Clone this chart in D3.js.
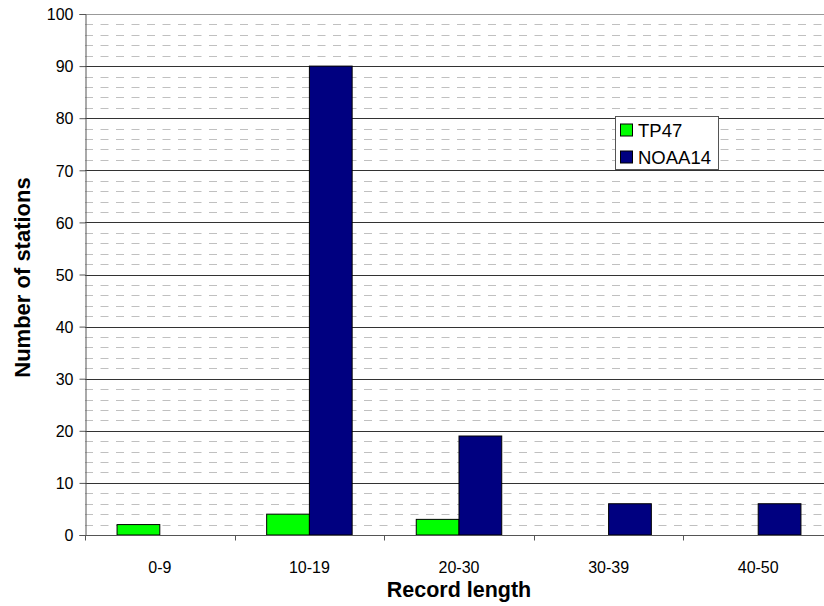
<!DOCTYPE html>
<html><head><meta charset="utf-8">
<script src="https://cdn.jsdelivr.net/npm/d3@7"></script>
<style>body{margin:0;background:#fff;} svg{display:block;font-family:"Liberation Sans",Arial,sans-serif;}</style>
</head><body>
<script>
const categories = ["0-9","10-19","20-30","30-39","40-50"];
const seriesNames = ["TP47","NOAA14"];
const tp47 = [2,4,3,0,0];
const noaa14 = [0,90,19,6,6];
const yTicks = [0,10,20,30,40,50,60,70,80,90,100];
const colors = ["#00ff00","#000080"];

(function(){
const W=824,H=606;
const pL=85, pR=833, pT=14, pB=535;
const svg=d3.select("body").append("svg").attr("width",W).attr("height",H);
const y=d3.scaleLinear().domain([0,100]).range([pB,pT]);
const x=d3.scaleBand().domain(categories).range([pL,pR]).paddingInner(3/7).paddingOuter(1.5/7);
const xc=d3.scaleBand().domain(categories).range([pL,pR]);
const xs=d3.scaleBand().domain(seriesNames).range([0,x.bandwidth()]);

// minor dashed gridlines
const minor=d3.range(2,100,2).filter(v=>v%10!==0);
svg.append("g").selectAll("line").data(minor).join("line")
 .attr("x1",pL).attr("x2",pR).attr("y1",d=>Math.round(y(d))+0.5).attr("y2",d=>Math.round(y(d))+0.5)
 .attr("stroke","#c0c0c0").attr("stroke-width",1).attr("stroke-dasharray","8,7.5");
// major
svg.append("g").selectAll("line").data(yTicks.filter(v=>v>0&&v<100)).join("line")
 .attr("x1",pL).attr("x2",pR).attr("y1",d=>Math.round(y(d))+0.5).attr("y2",d=>Math.round(y(d))+0.5)
 .attr("stroke","#333").attr("stroke-width",1);
svg.append("line").attr("x1",pL).attr("x2",pR).attr("y1",Math.round(y(100))+0.5).attr("y2",Math.round(y(100))+0.5).attr("stroke","#999");

// bars
const data=categories.map((c,i)=>({c,vals:[tp47[i],noaa14[i]]}));
const g=svg.append("g");
data.forEach(d=>{
  d.vals.forEach((v,j)=>{
    if(v<=0) return;
    g.append("rect").attr("x",x(d.c)+xs(seriesNames[j])).attr("width",xs.bandwidth())
     .attr("y",y(v)).attr("height",y(0)-y(v)).attr("fill",colors[j]).attr("stroke","#000").attr("stroke-width",1);
  });
});

// axes
const ya=d3.axisLeft(y).tickValues(yTicks).tickSize(6).tickPadding(6);
const yg=svg.append("g").attr("transform",`translate(${pL+0.5},0)`).call(ya);
yg.select(".domain").attr("stroke","#555");
yg.selectAll(".tick line").attr("stroke","#555");
yg.selectAll("text").attr("font-size",16).attr("fill","#000").attr("font-family","Liberation Sans,Arial").attr("dy","0.36em");

const xa=svg.append("g").attr("transform",`translate(0,${Math.round(pB)+0.5})`);
xa.append("line").attr("x1",pL).attr("x2",pR).attr("stroke","#555");
xa.selectAll("line.t").data(categories).join("line").attr("class","t")
 .attr("x1",d=>Math.round(xc(d))+0.5).attr("x2",d=>Math.round(xc(d))+0.5).attr("y1",0).attr("y2",5).attr("stroke","#555");
xa.selectAll("text").data(categories).join("text")
 .attr("x",d=>xc(d)+xc.bandwidth()/2).attr("y",37).attr("text-anchor","middle").attr("font-size",16).text(d=>d);

svg.append("text").attr("x",(pL+pR)/2).attr("y",597).attr("text-anchor","middle")
 .attr("font-size",21.5).attr("font-weight","bold").text("Record length");
svg.append("text").attr("transform",`translate(29.5,${(pT+pB)/2+3}) rotate(-90)`).attr("text-anchor","middle")
 .attr("font-size",22).attr("font-weight","bold").text("Number of stations");

// legend
const lg=svg.append("g").attr("transform","translate(615.5,116.5)");
lg.append("rect").attr("width",103).attr("height",53).attr("fill","#fff").attr("stroke","#555");
seriesNames.forEach((n,i)=>{
  lg.append("rect").attr("x",5).attr("y",7.5+i*27).attr("width",12).attr("height",12).attr("fill",colors[i]).attr("stroke","#000");
  lg.append("text").attr("x",22.5).attr("y",20+i*27.3).attr("font-size",18.5).text(n);
});
})();
</script>
</body></html>
